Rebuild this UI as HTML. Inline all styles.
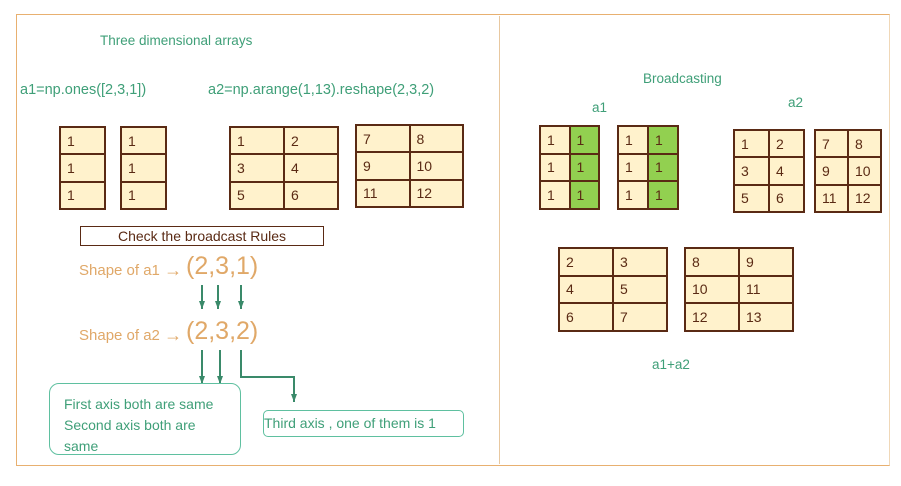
<!DOCTYPE html>
<html><head><meta charset="utf-8"><style>
body{margin:0;width:901px;height:486px;background:#fff;position:relative;font-family:"Liberation Sans",sans-serif;overflow:hidden}
.a{position:absolute}
.g{position:absolute;display:grid;border:1.5px solid #5a2a14;box-sizing:border-box;background:#fff2cc}
.g div{border:0.5px solid #5a2a14;box-sizing:border-box;font-size:14px;color:#5a2a14;padding-left:6px;display:flex;align-items:center}
.gr{background:#92d050!important}
.t{color:#3f9f78;font-size:14px;white-space:nowrap}
.o{color:#e0a868;white-space:nowrap}
.ar{font-size:18px;font-weight:bold;position:relative;top:1px}
</style></head><body>
<div class="a" style="left:16px;top:14px;width:872px;height:450px;border:1.5px solid #e8b070;border-right-color:#f0d8b8"></div>
<div class="a" style="left:499px;top:16px;width:1px;height:448px;background:#e8c8a0"></div>

<div class="a t" style="left:100px;top:33px;font-size:13.5px">Three dimensional arrays</div>
<div class="a t" style="left:20px;top:82px;font-size:14.5px">a1=np.ones([2,3,1])</div>
<div class="a t" style="left:208px;top:82px;font-size:14.5px">a2=np.arange(1,13).reshape(2,3,2)</div>

<div class="g" style="left:59px;top:126px;width:47px;height:84px;grid-template-rows:1fr 1fr 1fr"><div>1</div><div>1</div><div>1</div></div>
<div class="g" style="left:120px;top:126px;width:47px;height:84px;grid-template-rows:1fr 1fr 1fr"><div>1</div><div>1</div><div>1</div></div>
<div class="g" style="left:229px;top:126px;width:110px;height:84px;grid-template-columns:1fr 1fr;grid-template-rows:1fr 1fr 1fr"><div>1</div><div>2</div><div>3</div><div>4</div><div>5</div><div>6</div></div>
<div class="g" style="left:355px;top:124px;width:109px;height:84px;grid-template-columns:1fr 1fr;grid-template-rows:1fr 1fr 1fr"><div>7</div><div>8</div><div>9</div><div>10</div><div>11</div><div>12</div></div>

<div class="a" style="left:80px;top:226px;width:244px;height:20px;border:1px solid #5a2a14;box-sizing:border-box;color:#5a2a14;font-size:14px;text-align:center;line-height:18px">Check the broadcast Rules</div>

<div class="a o" style="left:79px;top:259px;font-size:15px">Shape of a1 <span class="ar">→</span></div>
<div class="a o" style="left:186px;top:252px;font-size:25px">(2,3,1)</div>
<div class="a o" style="left:79px;top:324px;font-size:15px">Shape of a2 <span class="ar">→</span></div>
<div class="a o" style="left:186px;top:317px;font-size:25px">(2,3,2)</div>

<svg class="a" style="left:0;top:0" width="901" height="486">
<defs><marker id="m" markerUnits="userSpaceOnUse" markerWidth="8" markerHeight="8" refX="8" refY="4" orient="auto"><path d="M0,1 L8,4 L0,7z" fill="#3a8a6a"/></marker></defs>
<g stroke="#3a8a6a" stroke-width="2" fill="none" marker-end="url(#m)">
<line x1="202" y1="285" x2="202" y2="309"/>
<line x1="218" y1="285" x2="218" y2="309"/>
<line x1="241" y1="285" x2="241" y2="309"/>
<line x1="202" y1="350" x2="202" y2="384"/>
<line x1="220" y1="350" x2="220" y2="384"/>
<polyline points="241,350 241,377 294,377 294,402"/>
</g>
</svg>

<div class="a" style="left:49px;top:383px;width:192px;height:72px;border:1.5px solid #5fc0a0;border-radius:10px;box-sizing:border-box"></div>
<div class="a t" style="left:64px;top:394px;font-size:14px;line-height:21px">First axis both are same<br>Second axis both are<br>same</div>
<div class="a" style="left:263px;top:410px;width:201px;height:27px;border:1.5px solid #5fc0a0;border-radius:5px;box-sizing:border-box"></div>
<div class="a t" style="left:264px;top:415px;font-size:14px">Third axis , one of them is 1</div>

<div class="a t" style="left:643px;top:71px;font-size:13.5px">Broadcasting</div>
<div class="a t" style="left:592px;top:100px;font-size:13.5px">a1</div>
<div class="a t" style="left:788px;top:95px;font-size:13.5px">a2</div>

<div class="g" style="left:539px;top:125px;width:61px;height:85px;grid-template-columns:1fr 1fr;grid-template-rows:1fr 1fr 1fr"><div>1</div><div class="gr">1</div><div>1</div><div class="gr">1</div><div>1</div><div class="gr">1</div></div>
<div class="g" style="left:617px;top:125px;width:62px;height:85px;grid-template-columns:1fr 1fr;grid-template-rows:1fr 1fr 1fr"><div>1</div><div class="gr">1</div><div>1</div><div class="gr">1</div><div>1</div><div class="gr">1</div></div>
<div class="g" style="left:733px;top:129px;width:72px;height:84px;grid-template-columns:1fr 1fr;grid-template-rows:1fr 1fr 1fr"><div>1</div><div>2</div><div>3</div><div>4</div><div>5</div><div>6</div></div>
<div class="g" style="left:814px;top:129px;width:68px;height:84px;grid-template-columns:1fr 1fr;grid-template-rows:1fr 1fr 1fr"><div>7</div><div>8</div><div>9</div><div>10</div><div>11</div><div>12</div></div>
<div class="g" style="left:558px;top:247px;width:110px;height:85px;grid-template-columns:1fr 1fr;grid-template-rows:1fr 1fr 1fr"><div>2</div><div>3</div><div>4</div><div>5</div><div>6</div><div>7</div></div>
<div class="g" style="left:684px;top:247px;width:110px;height:85px;grid-template-columns:1fr 1fr;grid-template-rows:1fr 1fr 1fr"><div>8</div><div>9</div><div>10</div><div>11</div><div>12</div><div>13</div></div>

<div class="a t" style="left:652px;top:357px;font-size:13.5px">a1+a2</div>
</body></html>
